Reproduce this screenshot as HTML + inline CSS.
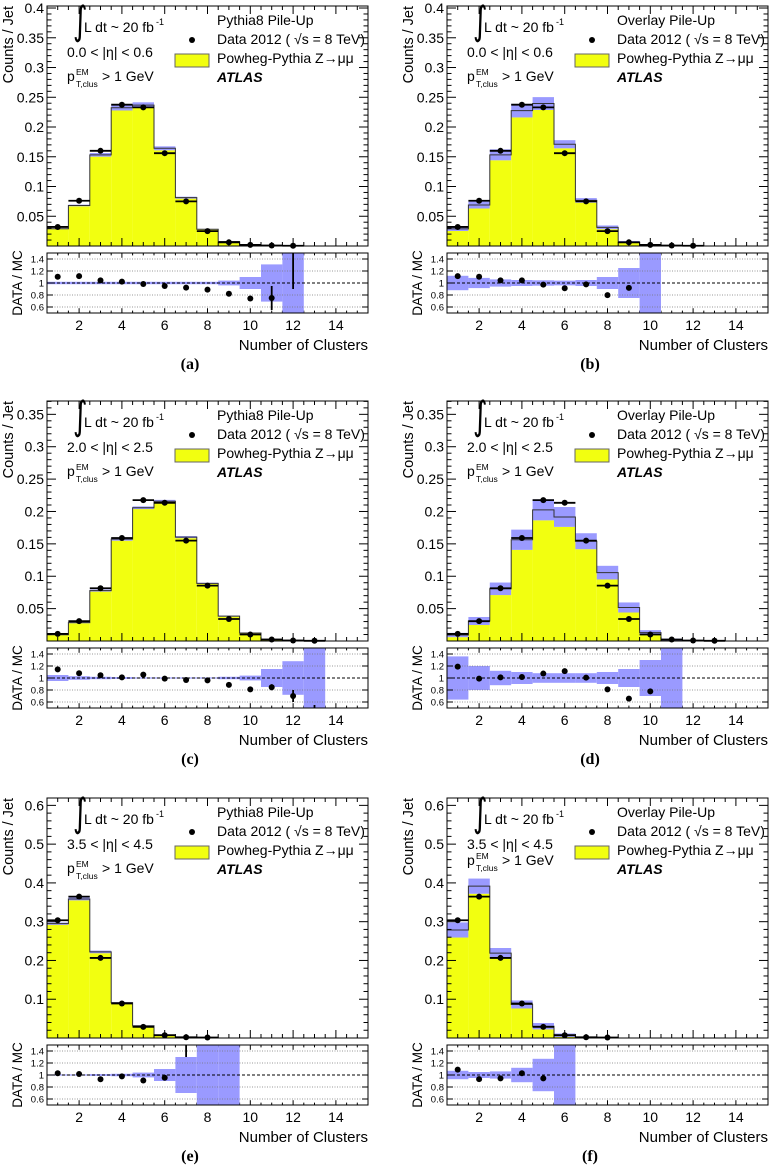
<!DOCTYPE html>
<html><head><meta charset="utf-8"><style>
html,body{margin:0;padding:0;background:#fff;}
svg{display:block;font-family:"Liberation Sans",sans-serif;}
</style></head><body>
<svg id="fig" width="770" height="1168" viewBox="0 0 770 1168" xmlns="http://www.w3.org/2000/svg"></svg>
<script>
// ---- data (per panel) ----
const aData  = [0.032,0.076,0.160,0.2375,0.233,0.156,0.075,0.025,0.0062,0.0018,0.0008,0.0004];
const aRatio = [1.104,1.115,1.044,1.022,0.984,0.95,0.923,0.89,0.82,0.742,0.75,1.55];
const aRErr  = [0,0,0,0,0,0,0,0,0,0,0.2,0.65];
const aBand  = [0.02,0.02,0.02,0.02,0.02,0.02,0.02,0.02,0.04,0.1,0.31,0.6];

const bData  = [0.032,0.076,0.160,0.2375,0.233,0.156,0.075,0.025,0.0062,0.0018,0.0008,0.0004];
const bRatio = [1.115,1.104,1.044,1.044,0.973,0.912,0.978,0.797,0.918,null,null,null];
const bRErr  = [0,0,0,0,0,0,0,0,0,0,0,0];
const bBand  = [0.12,0.085,0.06,0.05,0.045,0.04,0.05,0.1,0.25,0.6,0,0];

const cData  = [0.011,0.0306,0.0814,0.159,0.2175,0.2134,0.155,0.0855,0.034,0.010,0.0023,0.0008,0.0003];
const cRatio = [1.143,1.08,1.046,1.011,1.057,0.989,0.966,0.96,0.886,0.81,0.846,0.70,0.4];
const cRErr  = [0,0,0,0,0,0,0,0,0,0,0.05,0.1,0.15];
const cBand  = [0.05,0.03,0.02,0.015,0.01,0.01,0.01,0.01,0.02,0.04,0.15,0.28,0.6];

const dData  = [0.011,0.0306,0.0814,0.159,0.2175,0.2134,0.155,0.0855,0.034,0.010,0.0023,0.0008,0.0003];
const dRatio = [1.19,0.99,1.01,1.017,1.074,1.114,1.006,0.81,0.657,0.777,null,null,null];
const dRErr  = [0,0,0,0,0,0,0,0,0,0,0,0,0];
const dBand  = [0.36,0.2,0.12,0.1,0.08,0.08,0.08,0.1,0.15,0.3,0.6,0,0];

const eData  = [0.3037,0.3646,0.2065,0.089,0.0287,0.0072,0.002,0.0012,0];
const eRatio = [1.03,1.017,0.93,0.977,0.909,0.954,1.6,null,null];
const eRErr  = [0,0,0,0,0,0.03,0.3,0,0];
const eBand  = [0.01,0.01,0.015,0.02,0.04,0.1,0.3,0.6,0.6];

const fData  = [0.3037,0.3646,0.2065,0.089,0.0287,0.0072,0.002,0.0012];
const fRatio = [1.09,0.931,0.943,1.029,0.943,null,null,null];
const fRErr  = [0,0,0,0,0,0,0,0];
const fBand  = [0.07,0.05,0.06,0.12,0.27,0.6,0,0];

const xTicks = [2,4,6,8,10,12,14];
const rTicks = [0.6,0.8,1,1.2,1.4];
const row1Ticks = [0.05,0.1,0.15,0.2,0.25,0.3,0.35,0.4];
const row2Ticks = [0.05,0.1,0.15,0.2,0.25,0.3,0.35];
const row3Ticks = [0.1,0.2,0.3,0.4,0.5,0.6];

const panels = [
 {id:'a',ox:0,oy:0,ymax:0.4034,ticks:row1Ticks,minor:0.01,data:aData,ratio:aRatio,rerr:aRErr,band:aBand,pu:'Pythia8 Pile-Up',eta:'0.0 < |η| < 0.6',pdy:0},
 {id:'b',ox:400,oy:0,ymax:0.4034,ticks:row1Ticks,minor:0.01,data:bData,ratio:bRatio,rerr:bRErr,band:bBand,pu:'Overlay Pile-Up',eta:'0.0 < |η| < 0.6',pdy:0},
 {id:'c',ox:0,oy:395,ymax:0.3706,ticks:row2Ticks,minor:0.01,data:cData,ratio:cRatio,rerr:cRErr,band:cBand,pu:'Pythia8 Pile-Up',eta:'2.0 < |η| < 2.5',pdy:0},
 {id:'d',ox:400,oy:395,ymax:0.3706,ticks:row2Ticks,minor:0.01,data:dData,ratio:dRatio,rerr:dRErr,band:dBand,pu:'Overlay Pile-Up',eta:'2.0 < |η| < 2.5',pdy:0},
 {id:'e',ox:0,oy:792,ymax:0.619,ticks:row3Ticks,minor:0.02,data:eData,ratio:eRatio,rerr:eRErr,band:eBand,pu:'Pythia8 Pile-Up',eta:'3.5 < |η| < 4.5',pdy:0},
 {id:'f',ox:400,oy:792,ymax:0.619,ticks:row3Ticks,minor:0.02,data:fData,ratio:fRatio,rerr:fRErr,band:fBand,pu:'Overlay Pile-Up',eta:'3.5 < |η| < 4.5',pdy:-8},
];

const NS='http://www.w3.org/2000/svg';
const svg=document.getElementById('fig');
function mk(tag,attrs,parent,text){const e=document.createElementNS(NS,tag);for(const k in attrs)e.setAttribute(k,attrs[k]);if(text!==undefined)e.textContent=text;(parent||svg).appendChild(e);return e;}

panels.forEach(p=>{
  const g=mk('g',{});
  
  
  const L=47+p.ox, R=368+p.ox;
  const T=6+p.oy, B=246+p.oy, RT=253+p.oy, RB=313+p.oy;
  const xs=v=>L+(v-0.5)*(R-L)/15;
  const ys=v=>B-v/p.ymax*(B-T);
  const rs=v=>RB-(v-0.5)*(RB-RT);
  const clipR=v=>Math.max(RT,Math.min(RB,rs(v)));
  const clipM=v=>Math.max(T,ys(v));
  const mc=p.data.map((d,i)=>p.ratio[i]?d/p.ratio[i]:d);
  p.data.forEach((d,i)=>{
    const x0=xs(i+0.5),x1=xs(i+1.5),m=mc[i],e=p.band[i];
    if(m<=0)return;
    const y=mk('rect',{x:x0,y:clipM(m*(1-e)),width:x1-x0,height:B-clipM(m*(1-e)),fill:'#f2ff10'},g);
    
    
    const bb=mk('rect',{x:x0,y:clipM(m*(1+e)),width:x1-x0,height:clipM(m*(1-e))-clipM(m*(1+e)),fill:'#9a9aff'},g);
    
    
  });
  let d='M'+xs(0.5)+','+B;
  mc.forEach((m,i)=>{d+=' L'+xs(i+0.5)+','+clipM(m)+' L'+xs(i+1.5)+','+clipM(m);});
  d+=' L'+xs(mc.length+0.5)+','+B;
  const ol=mk('path',{d:d,fill:'none',stroke:'#333','stroke-width':1},g);
  
  
  p.data.forEach((v,i)=>{
    if(v<=0)return;
    const yy=ys(v);
    mk('line',{x1:xs(i+0.5),x2:xs(i+1.5),y1:yy,y2:yy,stroke:'#000','stroke-width':1.8},g);
    const c=mk('circle',{cx:xs(i+1),cy:yy,r:3,fill:'#000'},g);
    
    
  });
  mk('rect',{x:L,y:T,width:R-L,height:B-T,fill:'none',stroke:'#000','stroke-width':1},g);
  for(let v=p.minor;v<p.ymax;v+=p.minor){
    const yy=ys(v),maj=p.ticks.some(t=>Math.abs(t-v)<1e-6);const len=maj?9:4.5;
    mk('line',{x1:L,x2:L+len,y1:yy,y2:yy,stroke:'#000','stroke-width':1},g);
    mk('line',{x1:R,x2:R-len,y1:yy,y2:yy,stroke:'#000','stroke-width':1},g);
  }
  p.ticks.forEach(t=>{
    const tl=mk('text',{x:L-3,y:ys(t)+5,'font-size':14,'text-anchor':'end'},g,String(t));
    
    
  });
  for(let v=1;v<=15;v+=0.5){
    const xx=xs(v),len=(v%2===0)?8:4;
    mk('line',{x1:xx,x2:xx,y1:B,y2:B-len,stroke:'#000','stroke-width':1},g);
    mk('line',{x1:xx,x2:xx,y1:T,y2:T+len,stroke:'#000','stroke-width':1},g);
    mk('line',{x1:xx,x2:xx,y1:RB,y2:RB-len*0.6,stroke:'#000','stroke-width':1},g);
    mk('line',{x1:xx,x2:xx,y1:RT,y2:RT+len*0.6,stroke:'#000','stroke-width':1},g);
  }
  p.band.forEach((e,i)=>{
    if(e<=0)return;
    const r=mk('rect',{x:xs(i+0.5),y:clipR(1+e),width:xs(i+1.5)-xs(i+0.5),height:clipR(1-e)-clipR(1+e),fill:'#9a9aff'},g);
    
    
  });
  rTicks.forEach(t=>{
    const yy=rs(t);
    if(t===1) mk('line',{x1:L,x2:R,y1:yy,y2:yy,stroke:'#000','stroke-width':1,'stroke-dasharray':'3,2'},g);
    else mk('line',{x1:L,x2:R,y1:yy,y2:yy,stroke:'#777','stroke-width':0.8,'stroke-dasharray':'1,1.5'},g);
    mk('line',{x1:L,x2:L+6,y1:yy,y2:yy,stroke:'#000'},g);
    mk('line',{x1:R,x2:R-6,y1:yy,y2:yy,stroke:'#000'},g);
    mk('text',{x:L-3,y:yy+3.5,'font-size':9.5,'text-anchor':'end'},g,String(t));
  });
  p.ratio.forEach((r,i)=>{
    if(r===null)return;
    const e=p.rerr[i];
    if(e>0) mk('line',{x1:xs(i+1),x2:xs(i+1),y1:clipR(r+e),y2:clipR(r-e),stroke:'#000','stroke-width':1.8},g);
    if(r>=0.5&&r<=1.5){
      const c=mk('circle',{cx:xs(i+1),cy:rs(r),r:3,fill:'#000'},g);
      
      
    }
  });
  mk('rect',{x:L,y:RT,width:R-L,height:RB-RT,fill:'none',stroke:'#000','stroke-width':1},g);
  xTicks.forEach(t=>{
    mk('text',{x:xs(t),y:330+p.oy,'font-size':14,'text-anchor':'middle'},g,String(t));
  });
  const xt=mk('text',{x:R,y:350+p.oy,'font-size':15,'text-anchor':'end'},g,'Number of Clusters');
  
  
  const yt=mk('text',{x:0,y:0,'font-size':14.5,'text-anchor':'end',transform:'translate('+(13+p.ox)+','+(6+p.oy)+') rotate(-90)'},g,'Counts / Jet');
  
  
  const rt=mk('text',{x:0,y:0,'font-size':13.5,'text-anchor':'middle',transform:'translate('+(22+p.ox)+','+(283+p.oy)+') rotate(-90)'},g,'DATA / MC');
  
  
  const lab=mk('text',{x:190+p.ox,y:369+p.oy,'font-size':16,'font-weight':'bold','text-anchor':'middle','font-family':'Liberation Serif, serif'},g,'('+p.id+')');
  
  
  const X=p.ox, Y=p.oy;
  mk('text',{x:0,y:0,'font-size':28,'font-family':'DejaVu Sans, sans-serif',transform:'translate('+(73+X)+','+(34+Y)+') scale(1,1.4)'},g,'∫');
  const lum=mk('text',{x:84+X,y:32+Y,'font-size':14},g,'L dt ~ 20 fb');
  
  
  mk('text',{x:156+X,y:25+Y,'font-size':9},g,'-1');
  mk('text',{x:67+X,y:57+Y,'font-size':14},g,p.eta);
  mk('text',{x:67+X,y:81+Y+p.pdy,'font-size':14},g,'p');
  mk('text',{x:76+X,y:75+Y+p.pdy,'font-size':8.5},g,'EM');
  mk('text',{x:76+X,y:87+Y+p.pdy,'font-size':8.5},g,'T,clus');
  mk('text',{x:102+X,y:81+Y+p.pdy,'font-size':14},g,'> 1 GeV');
  const pu=mk('text',{x:217+X,y:25+Y,'font-size':14},g,p.pu);
  
  
  mk('circle',{cx:192+X,cy:40+Y,r:3,fill:'#000'},g);
  const dl=mk('text',{x:217+X,y:44+Y,'font-size':14},g,'Data 2012 ( √s = 8 TeV)');
  
  
  mk('rect',{x:175+X,y:54+Y,width:34,height:13,fill:'#f2ff10',stroke:'#666','stroke-width':1},g);
  const ml=mk('text',{x:217+X,y:63+Y,'font-size':14},g,'Powheg-Pythia Z→μμ');
  
  
  const at=mk('text',{x:217+X,y:82+Y,'font-size':14,'font-weight':'bold','font-style':'italic'},g,'ATLAS');
  
  
});
</script>
</body></html>
